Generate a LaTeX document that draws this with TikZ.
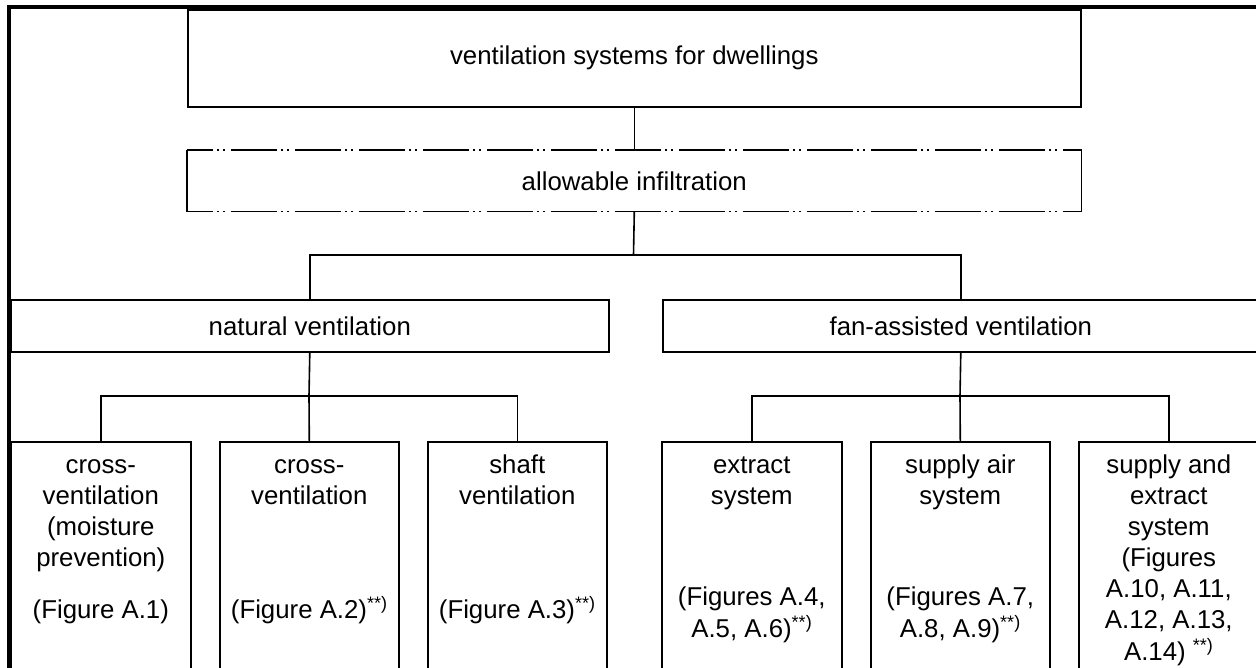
\documentclass[tikz,border=0pt]{standalone}
\usepackage{fontspec}
\setmainfont{Liberation Sans}
\tikzset{
  lbl/.style={font=\fontsize{25.8}{31}\selectfont, inner sep=0pt, align=center},
  boxshape/.style={rectangle, inner sep=0pt, anchor=north west, line width=1.6pt,
    font=\fontsize{25.8}{31}\selectfont},
  solidbox/.style={boxshape, draw},
  conn/.style={line width=1.6pt},
  frameline/.style={line width=3.2pt, line join=miter},
  dashdotdot/.style={line width=1.6pt, dash pattern=on 46pt off 4pt on 2pt off 4pt on 2pt off 6pt, dash phase=20pt}
}
\newcommand{\dstar}{\textsuperscript{**)}}
\begin{document}
\begin{tikzpicture}[x=1pt,y=-1pt]
\useasboundingbox (0,0) rectangle (1256,668);
\clip (0,0) rectangle (1256,668);

% frame
\draw[frameline] (9,700) -- (9,7) -- (1260,7);

% upper boxes
\node[solidbox, minimum width=893pt, minimum height=97pt] (top) at (187,9) {ventilation systems for dwellings};
\node[boxshape, minimum width=893pt, minimum height=60pt] (infil) at (187,150) {allowable infiltration};
\draw[dashdotdot] (infil.north west) -- (infil.north east);
\draw[dashdotdot] (infil.south west) -- (infil.south east);
\draw[conn] (infil.north west) -- (infil.south west);
\draw[conn] (infil.north east) -- (infil.south east);

\node[solidbox, minimum width=598pt, minimum height=52pt] (nat) at (10,299) {natural ventilation};
\node[solidbox, minimum width=596pt, minimum height=52pt] (fan) at (662,299) {fan-assisted ventilation};

% bottom boxes
\node[solidbox, minimum width=180pt, minimum height=260pt] (b1) at (10,441) {};
\node[solidbox, minimum width=179pt, minimum height=260pt] (b2) at (219,441) {};
\node[solidbox, minimum width=179pt, minimum height=260pt] (b3) at (427,441) {};
\node[solidbox, minimum width=180pt, minimum height=260pt] (b4) at (661,441) {};
\node[solidbox, minimum width=179pt, minimum height=260pt] (b5) at (870,441) {};
\node[solidbox, minimum width=180pt, minimum height=260pt] (b6) at (1078,441) {};

% texts in bottom boxes
\node[lbl, anchor=north] (t1) at ([yshift=-10.3pt]b1.north) {\strut cross-\\\strut ventilation\\\strut (moisture\\\strut prevention)};
\node[lbl, anchor=north] (f1) at ([yshift=-155.3pt]b1.north) {\strut (Figure A.1)};
\node[lbl, anchor=north] (t2) at ([yshift=-10.3pt]b2.north) {\strut cross-\\\strut ventilation};
\node[lbl, anchor=north] (f2) at ([yshift=-155.3pt]b2.north) {\strut (Figure A.2)\dstar};
\node[lbl, anchor=north] (t3) at ([yshift=-10.3pt]b3.north) {\strut shaft\\\strut ventilation};
\node[lbl, anchor=north] (f3) at ([yshift=-155.3pt]b3.north) {\strut (Figure A.3)\dstar};
\node[lbl, anchor=north] (t4) at ([yshift=-10.3pt]b4.north) {\strut extract\\\strut system};
\node[lbl, anchor=north] (f4) at ([yshift=-142.3pt]b4.north) {\strut (Figures A.4,\\\strut A.5, A.6)\dstar};
\node[lbl, anchor=north] (t5) at ([yshift=-10.3pt]b5.north) {\strut supply air\\\strut system};
\node[lbl, anchor=north] (f5) at ([yshift=-142.3pt]b5.north) {\strut (Figures A.7,\\\strut A.8, A.9)\dstar};
\node[lbl, anchor=north] (t6) at ([yshift=-10.3pt]b6.north) {\strut supply and\\\strut extract\\\strut system\\\strut (Figures\\\strut A.10, A.11,\\\strut A.12, A.13,\\\strut A.14) \dstar};

% connectors
\coordinate (j1) at (633.5,255);
\coordinate (j2) at (309,396);
\coordinate (j3) at (960,396);
\draw[conn] (top.south) -- (infil.north);
\draw[conn] (infil.south) -- (j1);
\draw[conn] (nat.north) |- (j1) -| (fan.north);
\draw[conn] (nat.south) -- (j2);
\draw[conn] (b1.north) |- (j2) -| (b3.north);
\draw[conn] (j2) -- (b2.north);
\draw[conn] (fan.south) -- (j3);
\draw[conn] (b4.north) |- (j3) -| (b6.north);
\draw[conn] (j3) -- (b5.north);
\end{tikzpicture}
\end{document}
